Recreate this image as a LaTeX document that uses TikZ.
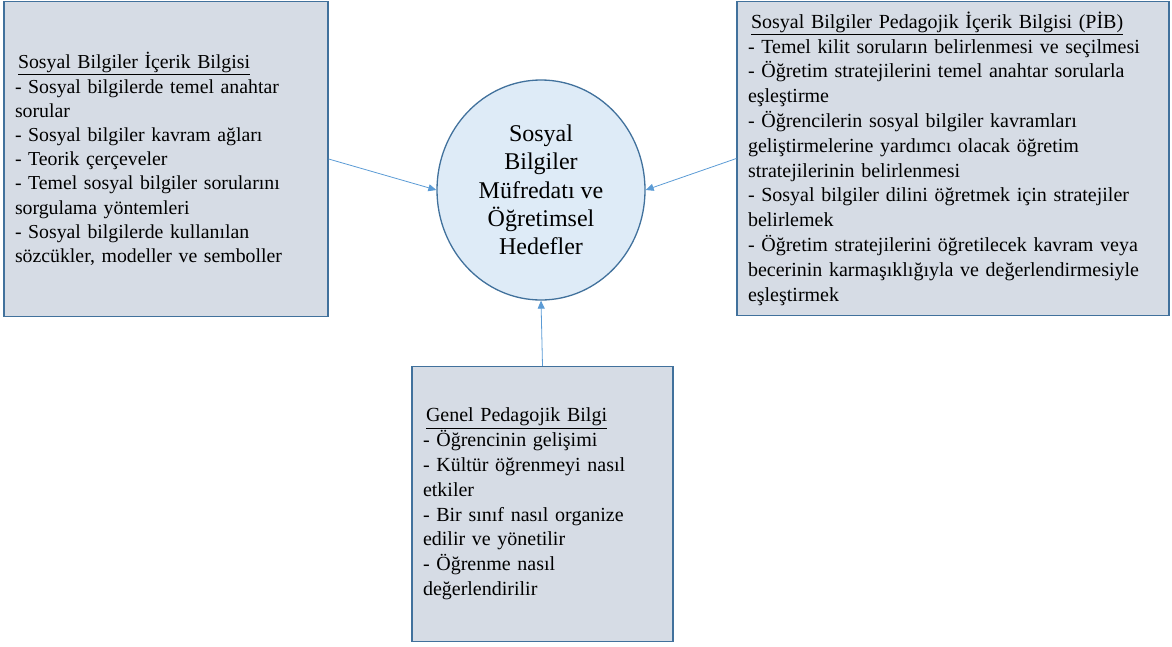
\documentclass[tikz,border=0pt]{standalone}
\usepackage{fontspec}
\setmainfont{Liberation Serif}
\usetikzlibrary{arrows.meta,shapes.geometric}
\definecolor{boxfill}{HTML}{D6DCE5}
\definecolor{boxline}{HTML}{41719C}
\definecolor{hubfill}{HTML}{DEEBF7}
\definecolor{arrowblue}{HTML}{5B9BD5}
\newcommand{\boxtitle}[1]{\hspace*{3pt}\underline{#1}}
\begin{document}
\begin{tikzpicture}[x=1pt,y=-1pt,
  infobox/.style={rectangle,draw=boxline,fill=boxfill,line width=1.3pt,
    inner xsep=11pt,inner ysep=0pt,align=left},
  hub/.style={ellipse,draw=boxline,fill=hubfill,line width=1.3pt,
    minimum width=208pt,minimum height=220pt,inner sep=0pt,align=center,
    font=\fontsize{24}{28.3}\selectfont},
  feed/.style={draw=arrowblue,line width=0.8pt,-{Triangle[length=8pt,width=7pt]}}]
\useasboundingbox (0,0) rectangle (1172,646);

% central goal
\node[hub] (hub) at (541,190) {Sosyal\\Bilgiler\\Müfredatı ve\\Öğretimsel\\Hedefler};

% content knowledge
\node[infobox,minimum width=324pt,minimum height=315pt,text width=302pt,
  font=\fontsize{19.8}{24.2}\selectfont] (content) at (166,159)
  {\boxtitle{Sosyal Bilgiler İçerik Bilgisi}\\
   - Sosyal bilgilerde temel anahtar\\
   sorular\\
   - Sosyal bilgiler kavram ağları\\
   - Teorik çerçeveler\\
   - Temel sosyal bilgiler sorularını\\
   sorgulama yöntemleri\\
   - Sosyal bilgilerde kullanılan\\
   sözcükler, modeller ve semboller};

% pedagogical content knowledge
\node[infobox,minimum width=432pt,minimum height=314pt,text width=410pt,
  font=\fontsize{20}{24.8}\selectfont] (pck) at (953,158.5)
  {\boxtitle{Sosyal Bilgiler Pedagojik İçerik Bilgisi (PİB)}\\
   - Temel kilit soruların belirlenmesi ve seçilmesi\\
   - Öğretim stratejilerini temel anahtar sorularla\\
   eşleştirme\\
   - Öğrencilerin sosyal bilgiler kavramları\\
   geliştirmelerine yardımcı olacak öğretim\\
   stratejilerinin belirlenmesi\\
   - Sosyal bilgiler dilini öğretmek için stratejiler\\
   belirlemek\\
   - Öğretim stratejilerini öğretilecek kavram veya\\
   becerinin karmaşıklığıyla ve değerlendirmesiyle\\
   eşleştirmek};

% general pedagogical knowledge
\node[infobox,minimum width=261pt,minimum height=275pt,text width=239pt,
  font=\fontsize{20}{24.8}\selectfont] (general) at (542.5,504)
  {\boxtitle{Genel Pedagojik Bilgi}\\
   - Öğrencinin gelişimi\\
   - Kültür öğrenmeyi nasıl\\
   etkiler\\
   - Bir sınıf nasıl organize\\
   edilir ve yönetilir\\
   - Öğrenme nasıl\\
   değerlendirilir};

% connectors into the hub
\draw[feed] (content.east) -- (hub.west);
\draw[feed] (pck.west) -- (hub.east);
\draw[feed] (general.north) -- (hub.south);
\end{tikzpicture}
\end{document}
